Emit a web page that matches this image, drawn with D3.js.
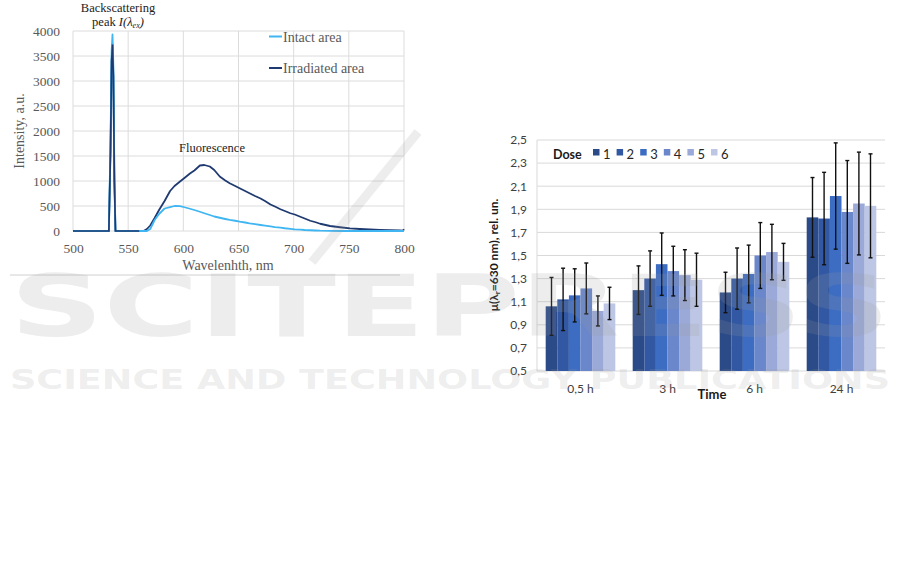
<!DOCTYPE html>
<html><head><meta charset="utf-8">
<script src="https://cdn.jsdelivr.net/npm/d3@7"></script>
<style>body{margin:0;background:#fff;} svg{display:block;}</style>
</head><body>
<script>
// ---------- Left chart data: spectra ----------
const wavelengths = [500,531,532.5,534,535,535.8,536.6,537.5,538.5,560,564,567,570,574,578,583,588,592,597,601,606,610,615,619,624,628,633,638,642,647,651,656,660,665,670,674,679,683,688,692,697,701,706,710,715,720,724,733,742,751,760,769,778,787,796,799,800];
const intactArea = [0,0,0,1800,3600,3930,3300,1200,0,0,0,0,40,220,340,450,478,500,498,475,445,420,385,355,320,290,265,240,222,205,188,170,153,138,120,107,92,78,66,55,44,33,26,20,15,10,6,2,0,0,0,0,0,0,0,0,0];
const irradiatedArea = [0,0,0,1600,3400,3730,3100,1000,0,0,0,40,110,260,420,600,800,900,990,1060,1150,1210,1310,1320,1290,1220,1090,1010,955,900,855,800,755,700,650,600,530,490,435,400,355,330,285,250,205,175,145,100,75,53,40,30,22,15,10,8,35];
const xTicksL = [500,550,600,650,700,750,800];
const yTicksL = [0,500,1000,1500,2000,2500,3000,3500,4000];

// ---------- Right chart data: bars ----------
const times = ["0,5 h","3 h","6 h","24 h"];
const doses = ["1","2","3","4","5","6"];
const dose1 = [1.06,1.20,1.18,1.83];
const dose2 = [1.12,1.30,1.30,1.82];
const dose3 = [1.155,1.425,1.34,2.015];
const dose4 = [1.215,1.365,1.50,1.877];
const dose5 = [1.02,1.33,1.53,1.95];
const dose6 = [1.085,1.29,1.445,1.93];
const err1 = [0.25,0.21,0.175,0.345];
const err2 = [0.27,0.24,0.265,0.40];
const err3 = [0.23,0.27,0.25,0.46];
const err4 = [0.22,0.215,0.285,0.445];
const err5 = [0.13,0.22,0.24,0.445];
const err6 = [0.14,0.23,0.16,0.45];
const yTicksR = [0.5,0.7,0.9,1.1,1.3,1.5,1.7,1.9,2.1,2.3,2.5];
const doseColors = ["#2b4a88","#3258a4","#3d6dc2","#6a87cc","#9aa9d7","#bdc7e5"];

const svg = d3.select("body").append("svg").attr("width",901).attr("height",562);

// ================= LEFT CHART =================
const serif = "'Liberation Serif', 'DejaVu Serif', serif";
const xL = d3.scaleLinear().domain([500,800]).range([73,404]);
const yL = d3.scaleLinear().domain([0,4000]).range([231,31]);
const gL = svg.append("g");

gL.selectAll("line.vg").data(xTicksL).join("line")
  .attr("x1",d=>xL(d)).attr("x2",d=>xL(d)).attr("y1",yL(4000)).attr("y2",yL(0))
  .attr("stroke","#dcdcdc").attr("stroke-width",1);
gL.selectAll("line.hg").data(yTicksL).join("line")
  .attr("x1",xL(500)).attr("x2",xL(800)).attr("y1",d=>yL(d)).attr("y2",d=>yL(d))
  .attr("stroke","#dcdcdc").attr("stroke-width",1);

const axYL = gL.append("g").attr("transform",`translate(${xL(500)},0)`)
  .call(d3.axisLeft(yL).tickValues(yTicksL).tickFormat(d3.format("d")).tickSize(0).tickPadding(13));
axYL.select(".domain").remove();
axYL.selectAll("text").attr("font-family",serif).attr("font-size",13.5).attr("fill","#595959");

const axXL = gL.append("g").attr("transform",`translate(0,${yL(0)})`)
  .call(d3.axisBottom(xL).tickValues(xTicksL).tickFormat(d3.format("d")).tickSize(0).tickPadding(12));
axXL.select(".domain").remove();
axXL.selectAll("text").attr("font-family",serif).attr("font-size",13.5).attr("fill","#595959");

const pts = (vals)=>wavelengths.map((w,i)=>[w,vals[i]]);
const lineL = d3.line().x(d=>xL(d[0])).y(d=>yL(d[1]));
gL.append("path").attr("d",lineL(pts(irradiatedArea))).attr("fill","none")
  .attr("stroke","#1f3a70").attr("stroke-width",1.8).attr("stroke-linejoin","round");
gL.append("path").attr("d",lineL(pts(intactArea))).attr("fill","none")
  .attr("stroke","#3fb6f2").attr("stroke-width",1.8).attr("stroke-linejoin","round");
gL.append("path").attr("d",lineL(pts(irradiatedArea).slice(0,10))).attr("fill","none")
  .attr("stroke","#1f3a70").attr("stroke-width",1.6);

// legend
const legL = [{n:"Intact area",c:"#3fb6f2",y:36.5},{n:"Irradiated area",c:"#1f3a70",y:68}];
legL.forEach(l=>{
  gL.append("line").attr("x1",269).attr("x2",282).attr("y1",l.y).attr("y2",l.y)
    .attr("stroke",l.c).attr("stroke-width",2);
  gL.append("text").attr("x",283).attr("y",l.y+5).text(l.n)
    .attr("font-family",serif).attr("font-size",14).attr("fill","#595959");
});

// axis titles
gL.append("text").attr("transform","translate(24,131) rotate(-90)").attr("text-anchor","middle")
  .attr("font-family",serif).attr("font-size",14).attr("fill","#595959").text("Intensity, a.u.");
gL.append("text").attr("x",228).attr("y",270).attr("text-anchor","middle")
  .attr("font-family",serif).attr("font-size",14).attr("fill","#595959").text("Wavelenhth, nm");

// annotations
gL.append("text").attr("x",118).attr("y",12).attr("text-anchor","middle")
  .attr("font-family",serif).attr("font-size",12.5).attr("fill","#222").text("Backscattering");
const pk = gL.append("text").attr("x",118).attr("y",26).attr("text-anchor","middle")
  .attr("font-family",serif).attr("font-size",12.5).attr("fill","#222");
pk.append("tspan").text("peak ");
pk.append("tspan").attr("font-style","italic").text("I(λ");
pk.append("tspan").attr("font-style","italic").attr("font-size",8).attr("dy",2).text("ex");
pk.append("tspan").attr("font-style","italic").attr("dy",-2).text(")");
gL.append("text").attr("x",212).attr("y",152).attr("text-anchor","middle")
  .attr("font-family",serif).attr("font-size",12.5).attr("fill","#222").text("Fluorescence");

// page separator line
svg.append("line").attr("x1",10).attr("x2",400).attr("y1",275).attr("y2",275)
  .attr("stroke","#d0d0d0").attr("stroke-width",1);

// ================= RIGHT CHART =================
const sans = "Lato, 'Open Sans', 'Liberation Sans', sans-serif";
const yR = d3.scaleLinear().domain([0.5,2.5]).range([371,140]);
const x0 = d3.scaleBand().domain(times).range([537,885]).paddingInner(0.2).paddingOuter(0.1);
const x1 = d3.scaleBand().domain(doses).range([0,x0.bandwidth()]);
const gR = svg.append("g");
const fmt = d=>d3.format(".1f")(d).replace(".",",");

gR.selectAll("line.hg").data(yTicksR).join("line")
  .attr("x1",537).attr("x2",885).attr("y1",d=>yR(d)).attr("y2",d=>yR(d))
  .attr("stroke","#d9d9d9").attr("stroke-width",1);
gR.append("line").attr("x1",537).attr("x2",537).attr("y1",yR(2.5)).attr("y2",yR(0.5))
  .attr("stroke","#d9d9d9").attr("stroke-width",1);

const axYR = gR.append("g").attr("transform","translate(537,0)")
  .call(d3.axisLeft(yR).tickValues(yTicksR).tickFormat(fmt).tickSize(0).tickPadding(10));
axYR.select(".domain").remove();
axYR.selectAll("text").attr("font-family",sans).attr("font-size",12).attr("fill","#404040");

const axXR = gR.append("g").attr("transform",`translate(0,${yR(0.5)})`)
  .call(d3.axisBottom(x0).tickSize(0).tickPadding(13));
axXR.select(".domain").remove();
axXR.selectAll("text").attr("font-family",sans).attr("font-size",12).attr("fill","#404040");

const series = [dose1,dose2,dose3,dose4,dose5,dose6];
const errs = [err1,err2,err3,err4,err5,err6];
const rows = [];
times.forEach((t,ti)=>doses.forEach((d,di)=>rows.push({t,d,di,v:series[di][ti],e:errs[di][ti]})));

gR.selectAll("rect.bar").data(rows).join("rect")
  .attr("x",r=>x0(r.t)+x1(r.d)).attr("width",x1.bandwidth())
  .attr("y",r=>yR(r.v)).attr("height",r=>yR(0.5)-yR(r.v))
  .attr("fill",r=>doseColors[r.di]);

const eb = gR.selectAll("g.err").data(rows).join("g")
  .attr("transform",r=>`translate(${x0(r.t)+x1(r.d)+x1.bandwidth()/2},0)`);
eb.append("line").attr("y1",r=>yR(r.v-r.e)).attr("y2",r=>yR(r.v+r.e)).attr("stroke","#111").attr("stroke-width",1.4);
eb.append("line").attr("x1",-2).attr("x2",2).attr("y1",r=>yR(r.v+r.e)).attr("y2",r=>yR(r.v+r.e)).attr("stroke","#111").attr("stroke-width",1.4);
eb.append("line").attr("x1",-2).attr("x2",2).attr("y1",r=>yR(r.v-r.e)).attr("y2",r=>yR(r.v-r.e)).attr("stroke","#111").attr("stroke-width",1.4);

// legend
gR.append("text").attr("x",553).attr("y",159).attr("font-family",sans).attr("font-weight","bold")
  .attr("font-size",12.5).attr("fill","#1a1a1a").text("Dose");
doses.forEach((d,i)=>{
  const lx = 593 + i*23.6;
  gR.append("rect").attr("x",lx).attr("y",149).attr("width",6.5).attr("height",6.5).attr("fill",doseColors[i]);
  gR.append("text").attr("x",lx+10).attr("y",159).attr("font-family",sans).attr("font-size",13)
    .attr("fill","#262626").text(d);
});

// axis titles
const yt = gR.append("text").attr("transform","translate(498,255) rotate(-90)").attr("text-anchor","middle")
  .attr("font-family",sans).attr("font-weight","bold").attr("font-size",12).attr("fill","#1a1a1a");
yt.append("tspan").text("μ(λ");
yt.append("tspan").attr("font-size",8).attr("dy",2).text("r");
yt.append("tspan").attr("dy",-2).text("=630 nm), rel. un.");
gR.append("text").attr("x",712).attr("y",399).attr("text-anchor","middle")
  .attr("font-family",sans).attr("font-weight","bold").attr("font-size",13).attr("fill","#1a1a1a").text("Time");

// ================= WATERMARK =================
const wm = svg.append("g").attr("pointer-events","none");
wm.append("line").attr("x1",418).attr("y1",132).attr("x2",312).attr("y2",262)
  .attr("stroke","#9a9a9a").attr("stroke-opacity",0.18).attr("stroke-width",9);
wm.append("text").attr("x",10).attr("y",336).attr("textLength",880).attr("lengthAdjust","spacingAndGlyphs")
  .attr("font-family","'DejaVu Sans', sans-serif").attr("font-weight","bold").attr("font-size",86)
  .attr("fill","#9a9a9a").attr("fill-opacity",0.18).text("SCITEPRESS");
wm.append("text").attr("x",10).attr("y",389).attr("textLength",880).attr("lengthAdjust","spacingAndGlyphs")
  .attr("font-family","'DejaVu Sans', sans-serif").attr("font-weight","bold").attr("font-size",26)
  .attr("fill","#9a9a9a").attr("fill-opacity",0.18).text("SCIENCE AND TECHNOLOGY PUBLICATIONS");
</script>
</body></html>
